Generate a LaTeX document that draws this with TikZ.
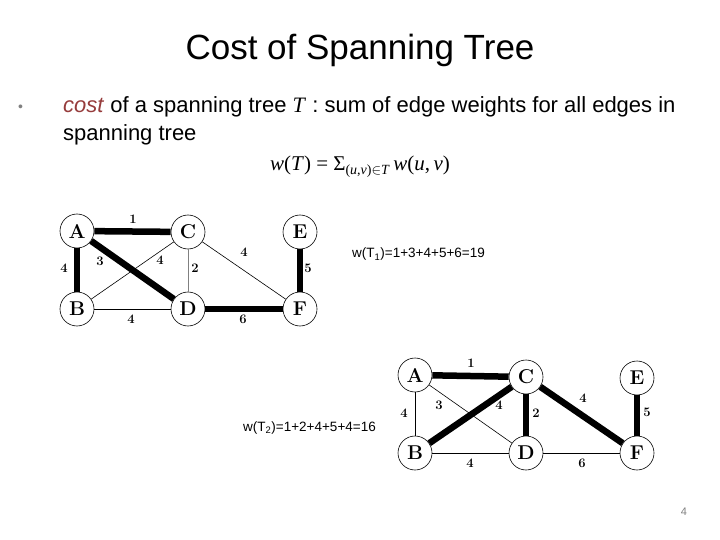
\documentclass[tikz,border=0pt]{standalone}
\usepackage{fontspec}
\setmainfont{Liberation Sans}
\newfontfamily\graphfont{Latin Modern Roman}
\newfontfamily\timesfont{Liberation Serif}
\definecolor{costred}{RGB}{150,60,60}
\begin{document}
\begin{tikzpicture}[x=1pt,y=-1pt,
  vtx/.style={circle,draw,line width=0.6pt,minimum size=34pt,inner sep=0pt,font=\graphfont\fontsize{20}{20}\selectfont\bfseries},
  thin/.style={line width=0.6pt},
  greyedge/.style={line width=0.8pt,draw=gray},
  heavy/.style={line width=6.5pt},
  wl/.style={font=\graphfont\fontsize{13}{13}\selectfont\bfseries,inner sep=0pt},
  txt/.style={font=\fontsize{22}{22}\selectfont,inner sep=0pt,anchor=base west}]
\useasboundingbox (0,0) rectangle (720,540);
\node[font=\fontsize{35}{35}\selectfont] (title) at (360,50) {Cost of Spanning Tree};
\node[txt,text=gray,font=\fontsize{14}{14}\selectfont] (bul) at (18,112) {•};
\node[txt] (l1) at (63,113) {\textcolor{costred}{\textit{cost}} of a spanning tree {\timesfont\textit{T}} : sum of edge weights for all edges in};
\node[txt] (l2) at (63,141) {spanning tree};
\node[font=\timesfont\fontsize{21}{21}\selectfont] (f) at (360,167) {\textit{w}(\textit{T}) = Σ\raisebox{-4pt}{\fontsize{14}{14}\selectfont(\textit{u},\textit{v})$\in$\textit{T}}\,\textit{w}(\textit{u},\,\textit{v})};
% graph 1
\node[vtx] (A1) at (77,231) {A};
\node[vtx] (C1) at (188,232) {C};
\node[vtx] (E1) at (300,232) {E};
\node[vtx] (B1) at (77,309) {B};
\node[vtx] (D1) at (188,309) {D};
\node[vtx] (F1) at (300,309) {F};
\draw[thin] (B1) -- (C1);
\draw[greyedge] (C1) -- (D1);
\draw[thin] (C1) -- (F1);
\draw[thin] (B1) -- (D1);
\draw[heavy] (A1) -- (C1);
\draw[heavy] (A1) -- (D1);
\draw[heavy] (A1) -- (B1);
\draw[heavy] (E1) -- (F1);
\draw[heavy] (D1) -- (F1);
\node[wl] at (133,219) {1};
\node[wl] at (100,261) {3};
\node[wl] at (160,260) {4};
\node[wl] at (195,268) {2};
\node[wl] at (244,252) {4};
\node[wl] at (308,268) {5};
\node[wl] at (64,268) {4};
\node[wl] at (131,319) {4};
\node[wl] at (243,319) {6};
\node[anchor=base west,inner sep=0pt,font=\fontsize{13.5}{13.5}\selectfont] (w1) at (352,258) {w(T\textsubscript{1})=1+3+4+5+6=19};
% graph 2
\node[vtx] (A2) at (415,375) {A};
\node[vtx] (C2) at (526,377) {C};
\node[vtx] (E2) at (637,378) {E};
\node[vtx] (B2) at (415,453) {B};
\node[vtx] (D2) at (526,453) {D};
\node[vtx] (F2) at (637,453) {F};
\draw[thin] (A2) -- (B2);
\draw[thin] (A2) -- (D2);
\draw[thin] (B2) -- (D2);
\draw[thin] (D2) -- (F2);
\draw[heavy] (A2) -- (C2);
\draw[heavy] (B2) -- (C2);
\draw[heavy] (C2) -- (D2);
\draw[heavy] (C2) -- (F2);
\draw[heavy] (E2) -- (F2);
\node[wl] at (471,363) {1};
\node[wl] at (404,413) {4};
\node[wl] at (439,405) {3};
\node[wl] at (499,405) {4};
\node[wl] at (536,413) {2};
\node[wl] at (583,398) {4};
\node[wl] at (647,412) {5};
\node[wl] at (470,463) {4};
\node[wl] at (582,463) {6};
\node[anchor=base west,inner sep=0pt,font=\fontsize{13.5}{13.5}\selectfont] (w2) at (243,431) {w(T\textsubscript{2})=1+2+4+5+4=16};
\node[font=\fontsize{11}{11}\selectfont,text=gray] (pg) at (684,512) {4};
\end{tikzpicture}
\end{document}
